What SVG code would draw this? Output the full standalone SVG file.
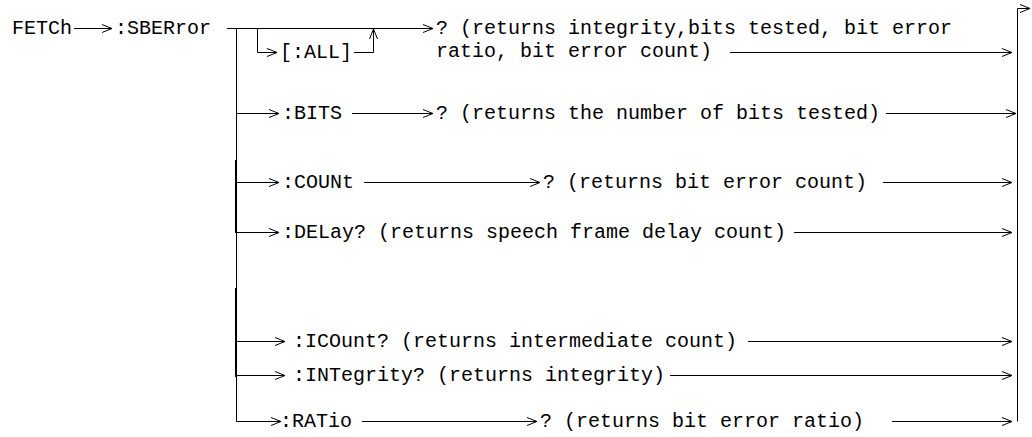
<svg xmlns="http://www.w3.org/2000/svg" width="1032" height="437" viewBox="0 0 1032 437">
<defs>
<style>
text{font-family:"Liberation Mono","Courier New",monospace;font-size:20px;fill:#000}
.c line,.c path{stroke:#000;stroke-width:1;fill:none}
</style>
<marker id="a" viewBox="0 0 10 10" refX="10" refY="5" markerWidth="10" markerHeight="10" markerUnits="userSpaceOnUse" orient="auto"><path d="M0,1 L10,5 L0,9" fill="none" stroke="#000" stroke-width="1"/></marker>
</defs>
<rect width="1032" height="437" fill="#fff"/>
<g id="n-fetch"><text x="12" y="34">FETCh</text></g>
<g id="n-sberror"><text x="115" y="34">:SBERror</text></g>
<g id="n-all"><text x="280" y="58">[:ALL]</text></g>
<g id="n-q1"><text x="436" y="34">? (returns integrity,bits tested, bit error</text><text x="436" y="57">ratio, bit error count)</text></g>
<g id="n-bits"><text x="282" y="119">:BITS</text></g>
<g id="n-q2"><text x="436" y="119">? (returns the number of bits tested)</text></g>
<g id="n-count"><text x="282" y="188">:COUNt</text></g>
<g id="n-q3"><text x="543" y="188">? (returns bit error count)</text></g>
<g id="n-delay"><text x="282" y="238">:DELay? (returns speech frame delay count)</text></g>
<g id="n-icount"><text x="293" y="347">:ICOunt? (returns intermediate count)</text></g>
<g id="n-integrity"><text x="293" y="381">:INTegrity? (returns integrity)</text></g>
<g id="n-ratio"><text x="280" y="427">:RATio</text></g>
<g id="n-q4"><text x="540" y="427">? (returns bit error ratio)</text></g>
<g id="connectors" class="c">
<line x1="74" y1="28.5" x2="112" y2="28.5" marker-end="url(#a)"/>
<line x1="227" y1="28.5" x2="433" y2="28.5" marker-end="url(#a)"/>
<line x1="236.5" y1="28" x2="236.5" y2="421"/>
<line x1="235.5" y1="160" x2="235.5" y2="233"/>
<line x1="235.5" y1="288" x2="235.5" y2="377"/>
<path d="M257.5,28.5 V52.5 H277" marker-end="url(#a)"/>
<path d="M354,52.5 H373.5 V29" marker-end="url(#a)"/>
<line x1="730" y1="52.5" x2="1012" y2="52.5" marker-end="url(#a)"/>
<line x1="236" y1="113.5" x2="279" y2="113.5" marker-end="url(#a)"/>
<line x1="352" y1="113.5" x2="433" y2="113.5" marker-end="url(#a)"/>
<line x1="886" y1="113.5" x2="1016" y2="113.5" marker-end="url(#a)"/>
<line x1="236" y1="182.5" x2="279" y2="182.5" marker-end="url(#a)"/>
<line x1="364" y1="182.5" x2="540" y2="182.5" marker-end="url(#a)"/>
<line x1="883" y1="182.5" x2="1012" y2="182.5" marker-end="url(#a)"/>
<line x1="236" y1="232.5" x2="279" y2="232.5" marker-end="url(#a)"/>
<line x1="794" y1="232.5" x2="1012" y2="232.5" marker-end="url(#a)"/>
<line x1="236" y1="341.5" x2="285" y2="341.5" marker-end="url(#a)"/>
<line x1="748" y1="341.5" x2="1012" y2="341.5" marker-end="url(#a)"/>
<line x1="236" y1="375.5" x2="285" y2="375.5" marker-end="url(#a)"/>
<line x1="670" y1="375.5" x2="1012" y2="375.5" marker-end="url(#a)"/>
<path d="M236.5,421 V421.5 H281" marker-end="url(#a)"/>
<line x1="362" y1="421.5" x2="537" y2="421.5" marker-end="url(#a)"/>
<line x1="892" y1="421.5" x2="1012" y2="421.5" marker-end="url(#a)"/>
<path d="M1017.5,421.5 V8.5 H1030" marker-end="url(#a)"/>
</g>
</svg>
